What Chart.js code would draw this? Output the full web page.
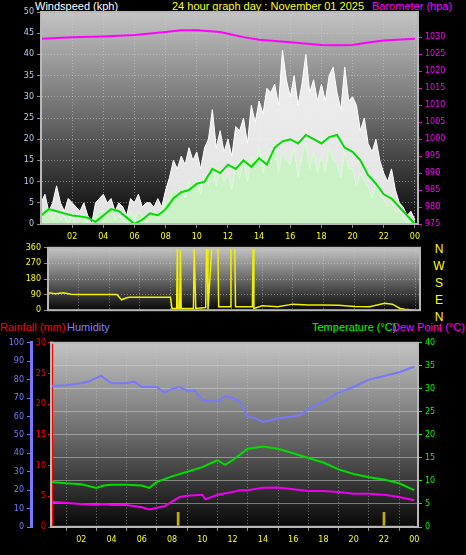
<!DOCTYPE html>
<html><head><meta charset="utf-8">
<script src="https://cdn.jsdelivr.net/npm/chart.js@4"></script>
<style>
body{margin:0;background:#000;width:466px;height:555px;overflow:hidden;position:relative;font-family:"Liberation Sans",Arial,sans-serif}
canvas{position:absolute;left:0}
.t{position:absolute;font-size:11px;white-space:nowrap;line-height:12px}
</style></head><body>
<div class="t" style="left:35px;top:0;color:#fff">Windspeed (kph)</div>
<div class="t" style="left:172px;top:0;color:#ffff00">24 hour graph day : November 01 2025</div>
<div class="t" style="left:372px;top:0;color:#ff00ff">Barometer (hpa)</div>
<div class="t" style="left:0;top:321px;color:#ff0000">Rainfall (mm)</div>
<div class="t" style="left:67px;top:321px;color:#8080ff">Humidity</div>
<div class="t" style="left:312px;top:321px;color:#00ff00">Temperature (°C)</div>
<div class="t" style="left:392px;top:321px;color:#ff00ff">Dew Point (°C)</div>
<div class="t" style="left:432px;top:241px;color:#ffff00;font-size:12px;line-height:17px;text-align:center;width:14px">N<br>W<br>S<br>E<br>N</div>
<canvas id="c1" width="466" height="242" style="top:0"></canvas>
<canvas id="c2" width="466" height="78" style="top:240px"></canvas>
<canvas id="c3" width="466" height="220" style="top:335px"></canvas>
<script>
// ---- data ----
const hourTicks=[2,4,6,8,10,12,14,16,18,20,22,24];
const gust=[5,7,3,5, 9,5,3,6, 5,4,3,5, 2,0,5,6, 7,5,6,3, 5,4,2,6, 5,7,4,5, 5,4,6,4,
 8,11,15,13, 16,14,18,15, 17,13,18,20, 27,18,22,17, 20,16,23,22, 25,19,28,24, 29,26,32,31,
 33,28,41,34, 30,35,28,33, 40,31,34,29, 33,29,35,37, 31,27,37,29, 30,28,22,25, 19,17,20,15,
 12,10,13,8, 5,4,2,3, 1];
const speed=[2,4,3,1, 3,1,2,0, 2,0,1,2, 0,0,2,3, 3,2,4,1, 2,1,0,3, 1,3,2,0, 2,3,1,3,
 5,6,8,7, 9,6,10,8, 10,7,12,9, 14,9,13,10, 12,8,14,11, 15,10,16,13, 18,12,16,14,
 19,12,17,15, 14,18,11,16, 19,13,17,12, 16,12,18,15, 14,11,17,13, 13,9,12,10, 9,6,10,7,
 6,4,5,3, 3,2,0,1, 0];
const avgWind=[2,3.5,3,2.5,2,1.8,1.5,0.5,2,3.5,3,1.5,0,1,2.5,2,3.5,6,7.5,8,9.5,10,13,12,14,13,15,13.5,
 15.5,14,18,19.5,20,19,21,20,19,20.5,21,18,17,15,11.5,9.5,7,6,4,2,0];
const baroT=[0,2,4,6,8,9,10,11.5,12,13,14,16,18,19,20,21,22,24];
const baroV=[1029.5,1030,1030.2,1030.6,1031.5,1032,1032,1031.5,1031,1030,1029.2,1028.5,1027.7,1027.6,1027.7,1028.4,1029,1029.5];
const dirT=[0,0.5,1,1.5,2,3,4,4.5,4.8,5.1,5.3,8.0,8.1,8.4,8.45,8.5,8.6,8.65,8.7,8.75,9.5,9.55,9.6,9.65,10.3,10.35,10.4,10.45,10.7,10.75,10.8,10.85,11.1,11.15,11.9,11.95,12.2,12.25,13.35,13.4,13.45,14,15,16,17,18,19,20,21,22,22.5,23,23.3,24];
const dirV=[100,95,100,92,90,90,90,90,60,70,75,75,10,10,360,10,10,350,10,10,10,360,360,10,15,360,360,5,360,360,360,360,360,20,20,360,360,20,20,360,10,25,20,35,30,30,28,22,20,40,35,10,5,0];
const humT=[0,1,2,2.5,3,3.3,4,5,5.5,6,7,7.5,8,8.5,9,9.5,10,11,11.5,12,12.5,13,13.5,14,14.5,15,16,16.5,17,18,19,20,21,22,23,24];
const humV=[76.5,77,78,79,81,82,78,78,79,76,76,73,75,76,74,74,69,68,71,70,68,60,59,57,58,59,60,61,64,68,73,76,80,82,84,87];
const tempT=[0,1,2,3,3.5,4,5,6,6.5,7,8,9,10,11,11.5,12,13,14,15,16,17,18,19,20,21,22,23,24];
const tempV=[9.8,9.5,9.3,8.5,9,9.2,9.2,9,8.5,9.8,11,12,13,14.5,13.5,14.5,17,17.5,17,16,15,14,12.5,11.5,10.8,10.3,9.5,8];
const dewT=[0,2,3,3.5,4,5,6,6.5,7,7.5,8,8.5,9,10,10.2,11,12,12.5,13,14,15,16,17,18,19,20,21,22,23,24];
const dewV=[5.5,5,4.8,5,4.8,4.8,4.3,3.8,4.2,4.5,5.5,6.5,6.8,7,6,7,7.6,8,8,8.5,8.6,8.2,7.8,7.8,7.6,7.2,7.2,7,6.5,5.8];
const rainT=[0,24];
const rainV=[0,0];
const rainMarkT=[8.4,22];
const rainMarkV=[2.4,2.4];

// ---- helpers ----
const zip=(t,v)=>v.map((y,i)=>({x:t[i],y}));
const q=(v,step)=>v.map((y,i)=>({x:i*step,y}));
const bg={id:'bg',beforeDraw(c){const a=c.chartArea,x=c.ctx;const g=x.createLinearGradient(0,a.top,0,a.bottom);
 g.addColorStop(0,'#c4c4c4');g.addColorStop(0.5,'#6a6a6a');g.addColorStop(1,'#080808');
 x.save();x.fillStyle=g;x.fillRect(a.left,a.top,a.right-a.left,a.bottom-a.top);x.restore();},
 afterDraw(c){const a=c.chartArea,x=c.ctx;x.save();x.strokeStyle='#b8b8b8';x.lineWidth=2;x.strokeRect(a.left,a.top,a.right-a.left,a.bottom-a.top);x.restore();}};
const gridC={color:'rgba(210,210,210,0.5)',tickColor:'#888',tickLength:4};
const dash={dash:[1,2]};
Chart.defaults.font.family='"DejaVu Sans",sans-serif';
Chart.defaults.font.size=8;
Chart.defaults.animation=false;
const fixW=w=>function(s){s.width=w};
const fixH=h=>function(s){s.height=h};
const xAxis=(max,h,disp)=>({type:'linear',min:0,max:max,offset:false,afterFit:fixH(h),
 afterBuildTicks(s){s.ticks=hourTicks.map(v=>({value:v}))},
 ticks:{display:disp,color:'#ffff00',padding:4,maxRotation:0,autoSkip:false,callback:v=>String(v%24).padStart(2,'0')},
 grid:{...gridC,drawTicks:disp},border:{color:'#b8b8b8',...dash}});
const common={responsive:false,devicePixelRatio:1,plugins:{legend:{display:false},tooltip:{enabled:false}},
 elements:{point:{radius:0},line:{tension:0,borderWidth:1.5}}};
const plain=v=>String(v);

// ---- top: wind + baro ----
new Chart(document.getElementById('c1'),{type:'line',plugins:[bg],
 data:{datasets:[
  {data:zip(baroT,baroV),yAxisID:'yb',borderColor:'#ff00ff',borderWidth:2,order:0},
  {data:q(avgWind,0.5),yAxisID:'y',borderColor:'#00dd00',borderWidth:2,order:1},
  {data:q(speed,0.25),yAxisID:'y',borderColor:'#d8ffd0',backgroundColor:'rgba(195,245,190,0.8)',fill:'origin',borderWidth:1,order:2},
  {data:q(gust,0.25),yAxisID:'y',borderColor:'#ffffff',backgroundColor:'rgba(245,245,245,0.92)',fill:'origin',borderWidth:1,order:3}]},
 options:{...common,layout:{padding:{top:12}},
  scales:{x:xAxis(24.2,18,true),
   y:{position:'left',min:0,max:50,afterFit:fixW(41),ticks:{stepSize:5,color:'#b0d0f0',padding:3,callback:plain},grid:gridC,border:{color:'#b8b8b8',...dash}},
   yb:{position:'right',min:975,max:1037.4,afterFit:fixW(48),afterBuildTicks(s){s.ticks=s.ticks.filter(t=>t.value%5===0)},
    ticks:{stepSize:5,color:'#ff00ff',padding:3,callback:plain},grid:{drawOnChartArea:false,tickColor:'#ff00ff',tickLength:4},border:{color:'#ff00ff'}}}}});

// ---- middle: direction ----
new Chart(document.getElementById('c2'),{type:'line',plugins:[bg],
 data:{datasets:[{data:zip(dirT,dirV),borderColor:'#f0f000',borderWidth:1.5}]},
 options:{...common,layout:{padding:{top:7,bottom:7}},
  scales:{x:{...xAxis(24.3,0,false),afterFit:fixH(0)},
   y:{position:'left',min:0,max:360,afterFit:fixW(48),ticks:{stepSize:90,color:'#ffff00',padding:3,callback:plain},grid:gridC,border:{color:'#b8b8b8',...dash}},
   yr:{position:'right',min:0,max:360,afterFit:fixW(46),ticks:{display:false},grid:{drawOnChartArea:false,drawTicks:false},border:{display:false}}}}});

// ---- bottom: temp/hum/rain ----
new Chart(document.getElementById('c3'),{type:'line',plugins:[bg],
 data:{datasets:[
  {data:zip(rainT,rainV),yAxisID:'yr',borderColor:'#ff0000',borderWidth:3,order:0},
  {data:zip(humT,humV),yAxisID:'yh',borderColor:'#7878ff',borderWidth:2,order:1},
  {data:zip(tempT,tempV),yAxisID:'yt',borderColor:'#00dd00',borderWidth:2,order:2},
  {data:zip(dewT,dewV),yAxisID:'yt',borderColor:'#ee00ee',borderWidth:2,order:3},
  {type:'bar',data:zip(rainMarkT,rainMarkV),yAxisID:'yr',backgroundColor:'#c0b000',barThickness:2,order:4}]},
 options:{...common,layout:{padding:{top:7}},
  scales:{x:xAxis(24.25,28,true),
   yh:{position:'left',weight:2,min:0,max:100,afterFit:fixW(31),ticks:{stepSize:10,color:'#7878ff',padding:3,callback:plain},grid:{drawOnChartArea:false,tickColor:'#7878ff',tickLength:4},border:{color:'#7878ff',width:3}},
   yr:{position:'left',weight:1,min:0,max:30,afterFit:fixW(20),ticks:{stepSize:5,color:'#ff0000',padding:2,callback:plain},grid:{drawOnChartArea:false,tickColor:'#ff0000',tickLength:3},border:{color:'#ff0000',width:3}},
   yt:{position:'right',min:0,max:40,afterFit:fixW(48),ticks:{stepSize:5,color:'#00ff00',padding:3,callback:plain},grid:{...gridC,tickColor:'#00ff00'},border:{color:'#00ff00'}}}}});
</script></body></html>
